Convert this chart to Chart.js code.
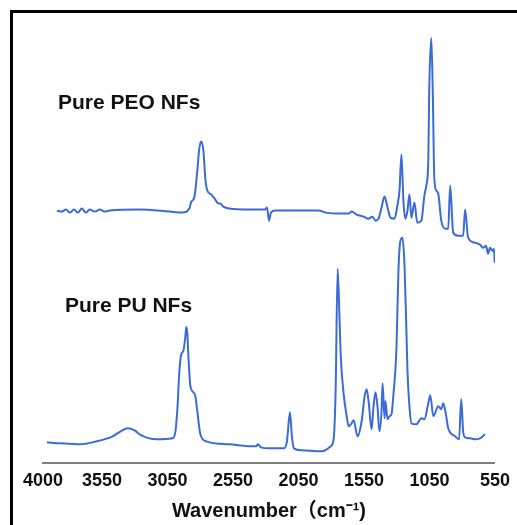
<!DOCTYPE html>
<html>
<head>
<meta charset="utf-8">
<script src="https://cdn.jsdelivr.net/npm/chart.js@4"></script>
<style>
  html, body { margin: 0; padding: 0; background: #fff; }
  #wrap { position: relative; width: 517px; height: 525px; overflow: hidden; }
  #frame { position: absolute; left: 10px; top: 10px; width: 600px; height: 600px;
           border-top: 3px solid #000; border-left: 3px solid #000; pointer-events: none; }
</style>
</head>
<body>
<div id="wrap">
  <canvas id="ftir-chart" width="517" height="525"></canvas>
  <div id="frame"></div>
</div>
<script>
// x axis ticks (wavenumber, cm-1)
const tickValues = [4000, 3550, 3050, 2550, 2050, 1550, 1050, 550];

// Pure PEO NFs (upper trace, arbitrary offset units)
const peoWavenumbers = [3894, 3856, 3825, 3795, 3764, 3734, 3704, 3673, 3643, 3605, 3567, 3529, 3491, 3263, 3035, 2936,
    2883, 2868, 2845, 2822, 2807, 2792, 2776, 2761, 2746, 2716, 2685, 2662, 2647, 2624, 2579, 2427, 2305, 2290, 2275,
    2260, 2229, 2047, 1895, 1842, 1743, 1667, 1644, 1606, 1553, 1515, 1485, 1462, 1439, 1416, 1393, 1370, 1348, 1317,
    1295, 1279, 1264, 1249, 1234, 1218, 1203, 1188, 1165, 1143, 1112, 1089, 1074, 1059, 1052, 1036, 1025, 1013, 998,
    983, 960, 930, 907, 892, 869, 831, 793, 778, 755, 702, 664, 641, 618, 603, 588, 570, 558, 552];
const peoValues = [252, 251, 253, 250, 253, 250, 254, 250, 253, 251, 253, 251, 252, 253, 251, 250,
    254, 261, 265, 292, 314, 321, 312, 284, 272, 268, 263, 259, 259, 256, 254, 253, 253, 255, 242,
    250, 252, 252, 252, 250, 249, 249, 251, 248, 246, 244, 246, 242, 244, 255, 266, 255, 245, 244,
    257, 272, 308, 262, 244, 252, 268, 245, 260, 240, 242, 267, 277, 302, 372, 424, 372, 284, 272,
    269, 242, 234, 234, 277, 230, 227, 227, 253, 225, 220, 218, 215, 217, 209, 215, 212, 214, 200];

// Pure PU NFs (lower trace)
const puWavenumbers = [3970, 3871, 3719, 3590, 3468, 3407, 3354, 3301, 3263, 3134, 3012, 2989, 2974, 2959, 2944, 2929,
    2913, 2906, 2898, 2891, 2875, 2860, 2837, 2822, 2799, 2754, 2579, 2374, 2359, 2336, 2275, 2161, 2138, 2115, 2100,
    2085, 2024, 1872, 1804, 1781, 1766, 1751, 1736, 1728, 1705, 1682, 1667, 1644, 1629, 1599, 1568, 1545, 1530, 1515,
    1492, 1477, 1462, 1447, 1432, 1416, 1408, 1393, 1386, 1370, 1355, 1340, 1325, 1302, 1287, 1272, 1256, 1241, 1226,
    1218, 1203, 1188, 1150, 1112, 1089, 1059, 1044, 1021, 983, 960, 945, 922, 907, 854, 824, 808, 793, 778, 740, 702,
    664, 626];
const puValues = [21, 20, 19, 22, 27, 32, 35, 33, 29, 24, 25, 32, 55, 92, 109, 112,
    127, 136, 129, 109, 77, 72, 67, 52, 29, 22, 19, 17, 19, 16, 15, 15, 22, 51, 27,
    15, 13, 12, 17, 25, 75, 194, 142, 109, 69, 47, 37, 40, 43, 27, 42, 67, 74, 62,
    34, 57, 71, 57, 32, 52, 80, 45, 62, 44, 47, 49, 69, 115, 192, 222, 225, 199, 132,
    92, 57, 40, 39, 45, 44, 60, 68, 47, 57, 54, 60, 47, 35, 27, 24, 64, 32, 26, 25, 24,
    25, 29];

const seriesLabels = ['Pure PEO NFs', 'Pure PU NFs'];

function toPoints(xs, ys) {
    return xs.map((x, i) => ({ x: x, y: ys[i] }));
}

const lineBlue = '#3a6bd6';
const fontFamily = '"Liberation Sans", Arial, "Noto Sans CJK JP", sans-serif';

const textLabels = {
    id: 'textLabels',
    afterDatasetsDraw(chart) {
        const { ctx, scales: { x, y } } = chart;
        ctx.save();
        ctx.fillStyle = '#111';
        ctx.font = `bold 21px ${fontFamily}`;
        ctx.textBaseline = 'alphabetic';
        ctx.textAlign = 'left';
        ctx.fillText(seriesLabels[0], x.getPixelForValue(3886), y.getPixelForValue(353));
        ctx.fillText(seriesLabels[1], x.getPixelForValue(3833), y.getPixelForValue(151));
        ctx.restore();
    }
};

const chartJSConfig = {
    type: 'line',
    data: {
        datasets: [
            {
                label: seriesLabels[0],
                data: toPoints(peoWavenumbers, peoValues),
                borderColor: lineBlue,
                borderWidth: 2,
                pointRadius: 0,
                cubicInterpolationMode: 'monotone',
                fill: false,
            },
            {
                label: seriesLabels[1],
                data: toPoints(puWavenumbers, puValues),
                borderColor: lineBlue,
                borderWidth: 2,
                pointRadius: 0,
                cubicInterpolationMode: 'monotone',
                fill: false,
            }
        ]
    },
    options: {
        responsive: false,
        animation: false,
        layout: { padding: { left: 43, right: 0, top: 14, bottom: 2 } },
        plugins: {
            legend: { display: false },
            tooltip: { enabled: false },
        },
        scales: {
            x: {
                type: 'linear',
                reverse: true,
                min: 550,
                max: 4000,
                afterBuildTicks: (scale) => {
                    scale.ticks = tickValues.map((v) => ({ value: v }));
                },
                grid: { display: false, drawTicks: false },
                border: { display: true, color: '#7f7f7f', width: 2 },
                ticks: {
                    autoSkip: false,
                    maxRotation: 0,
                    padding: 7,
                    color: '#111',
                    font: { family: fontFamily, size: 18, weight: 'bold' },
                    callback: (value) => String(value),
                },
                title: {
                    display: true,
                    text: 'Wavenumber（cm⁻¹)',
                    color: '#111',
                    padding: { top: 0, bottom: 0 },
                    font: { family: fontFamily, size: 20, weight: 'bold' },
                },
            },
            y: {
                display: false,
                min: 0,
                max: 448,
            }
        }
    },
    plugins: [textLabels]
};

const ctx = document.getElementById('ftir-chart').getContext('2d');
window.ftirChart = new Chart(ctx, chartJSConfig);
</script>
</body>
</html>
